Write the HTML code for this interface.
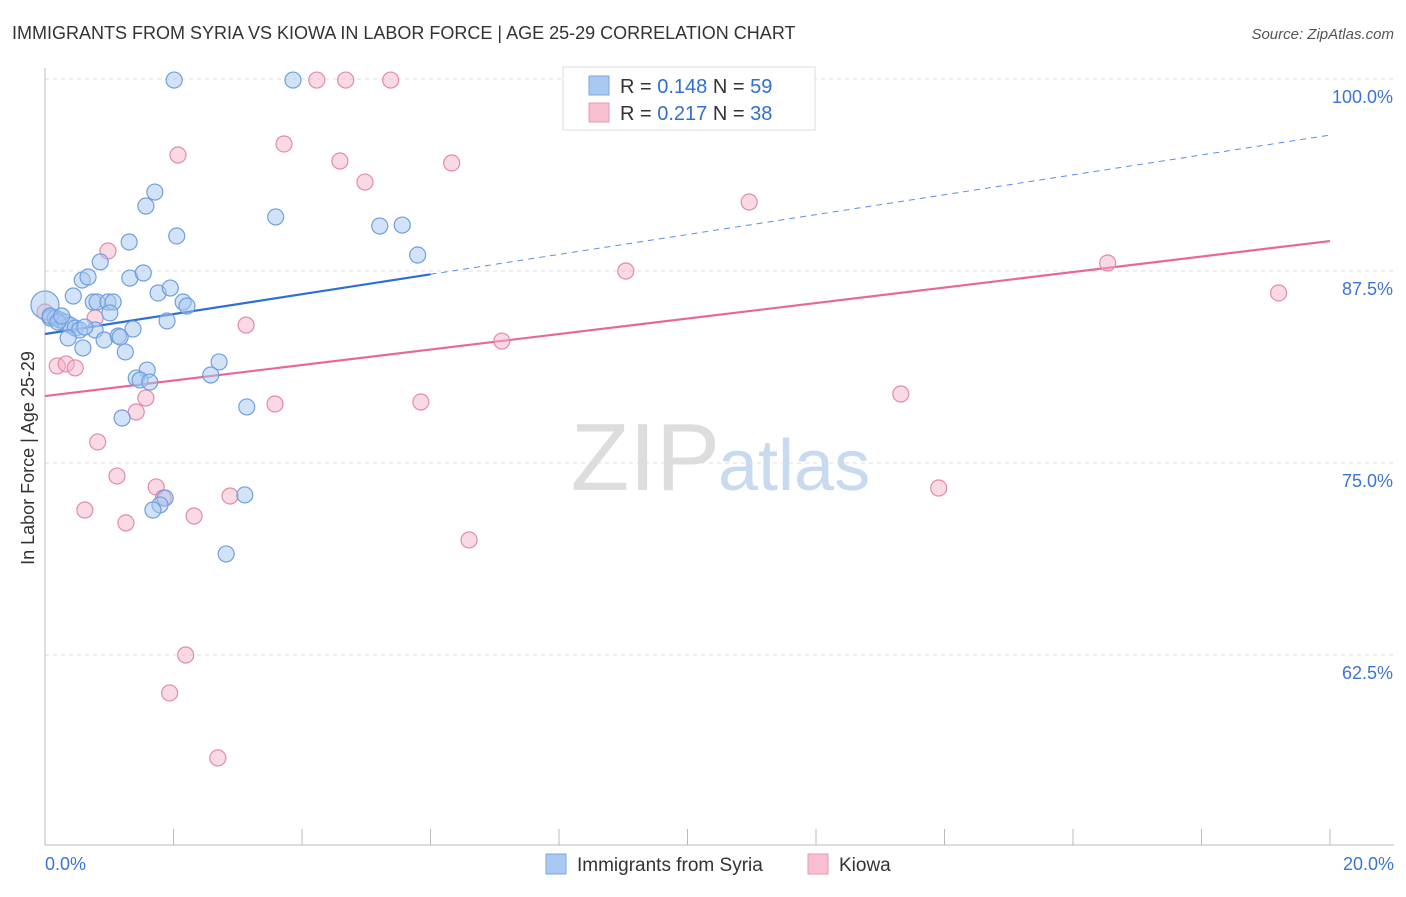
<!DOCTYPE html>
<html><head><meta charset="utf-8"><style>
body{margin:0;background:#fff;font-family:"Liberation Sans",sans-serif}
svg text{font-family:"Liberation Sans",sans-serif}
</style></head><body>
<svg id="chart" width="1406" height="892" xmlns="http://www.w3.org/2000/svg">
<text x="12" y="39" font-size="18" fill="#333">IMMIGRANTS FROM SYRIA VS KIOWA IN LABOR FORCE | AGE 25-29 CORRELATION CHART</text>
<text x="1394" y="39" font-size="15" fill="#555" font-style="italic" text-anchor="end">Source: ZipAtlas.com</text>
<text x="34" y="458" font-size="18" fill="#333" text-anchor="middle" transform="rotate(-90 34 458)">In Labor Force | Age 25-29</text>
<text x="720" y="490" font-size="96" fill="#ddd" text-anchor="end" font-family="Liberation Serif">ZIP</text>
<text x="718" y="490" font-size="72" fill="#c8daf0">atlas</text>
<g id="grid"></g><g id="axes"></g><g id="trend"></g><g id="pts"></g>
<g>
<rect x="563" y="67" width="252" height="63" fill="#fff" stroke="#ddd"/>
<rect x="589" y="76" width="20" height="19" fill="#a9c9f2" stroke="#7aa6e0"/>
<text x="620" y="93" font-size="20" fill="#333">R = <tspan fill="#2f6fd0">0.148</tspan>   N = <tspan fill="#2f6fd0">59</tspan></text>
<rect x="589" y="103" width="20" height="19" fill="#f7bfd0" stroke="#e89ab2"/>
<text x="620" y="120" font-size="20" fill="#333">R = <tspan fill="#2f6fd0">0.217</tspan>   N = <tspan fill="#2f6fd0">38</tspan></text>
</g>
<g>
<rect x="546" y="854" width="20" height="20" fill="#a9c9f2" stroke="#7aa6e0"/>
<text x="577" y="871" font-size="19" fill="#333">Immigrants from Syria</text>
<rect x="808" y="854" width="20" height="20" fill="#f7bfd0" stroke="#e89ab2"/>
<text x="839" y="871" font-size="19" fill="#333">Kiowa</text>
</g>
<text x="45" y="870" font-size="18" fill="#3b74d4">0.0%</text>
<text x="1394" y="870" font-size="18" fill="#3b74d4" text-anchor="end">20.0%</text>
</svg>
<script>
const yTicks=[100,87.5,75,62.5];
const yTickLabels=["100.0%","87.5%","75.0%","62.5%"];
const xTicks=[0,2,4,6,8,10,12,14,16,18,20];
const syriaX=[0,0.08,0.16,0.23,0.31,0.39,0.47,0.54,0.36,0.59,0.44,0.58,0.67,0.75,0.81,0.86,0.78,0.92,0.98,1.06,1.01,1.14,1.17,1.25,1.37,1.32,1.31,1.53,1.57,1.71,1.76,1.95,1.90,2.15,2.21,2.05,2.01,3.86,3.59,5.21,5.56,5.80,2.71,2.58,1.59,1.42,1.48,1.63,3.14,1.20,1.87,1.79,1.68,3.11,2.82,0.08,0.20,0.26,0.62];
const syriaY=[85.29,84.44,84.44,84.31,84.18,83.98,83.79,83.66,83.14,82.49,85.87,86.91,87.11,85.48,85.48,88.09,83.66,83.01,85.48,85.48,84.77,83.27,83.20,82.23,83.72,87.04,89.39,87.37,91.73,92.64,86.07,86.39,84.25,85.48,85.22,89.78,99.93,99.93,91.02,90.43,90.49,88.54,81.58,80.73,81.05,80.53,80.40,80.27,78.65,77.93,72.72,72.27,71.94,72.92,69.08,84.57,84.18,84.57,83.85];
const kiowaX=[0,0.16,0.19,0.33,0.47,0.78,0.98,0.82,1.12,0.62,1.26,1.42,1.57,1.73,1.84,2.07,2.32,2.19,1.94,2.69,2.88,3.13,3.58,3.72,4.23,4.68,5.38,4.59,4.98,5.85,6.33,6.60,7.11,9.04,10.96,13.32,13.91,16.54,19.20];
const kiowaY=[84.83,84.44,81.32,81.45,81.19,84.44,88.80,76.37,74.15,71.94,71.10,78.32,79.23,73.44,72.72,95.05,71.55,62.50,60.03,55.80,72.85,83.98,78.84,95.77,99.93,99.93,99.93,94.66,93.29,78.97,94.53,69.99,82.94,87.50,91.99,79.49,73.37,88.02,86.07];
const syriaTrend=[83.40,0.6475];
const kiowaTrend=[79.36,0.5045];
const X=v=>45+v/20*1285, Y=v=>79+(100-v)/12.5*192;
const NS="http://www.w3.org/2000/svg";
function mk(t,a,p){const e=document.createElementNS(NS,t);for(const k in a)e.setAttribute(k,a[k]);p.appendChild(e);return e;}
const grid=document.getElementById('grid'),axes=document.getElementById('axes');
yTicks.forEach((t,i)=>{
 const l=mk('line',{x1:45,x2:1394,y1:Y(t),y2:Y(t),stroke:'#ddd','stroke-dasharray':'4 4'},grid);
 
 
 const tx=mk('text',{x:1393,y:Y(t)+24,'font-size':18,fill:'#3b74d4','text-anchor':'end'},grid);
 tx.textContent=yTickLabels[i];
 
 
});
const ax=mk('line',{x1:45,x2:45,y1:68,y2:845,stroke:'#bbb'},axes);


const bx=mk('line',{x1:45,x2:1394,y1:845,y2:845,stroke:'#bbb'},axes);


xTicks.forEach(t=>{
 const l=mk('line',{x1:X(t),x2:X(t),y1:829,y2:845,stroke:'#bbb'},axes);
 
 
});
const pts=document.getElementById('pts');
function dots(xs,ys,fill,stroke,name){
 xs.forEach((x,i)=>{
  const c=mk('circle',{cx:X(x),cy:Y(ys[i]),r:(i===0&&name==='syria-point')?14:8,fill:fill,'fill-opacity':0.5,stroke:stroke,'stroke-width':1.2},pts);
  
  
 });
}
dots(kiowaX,kiowaY,'#f4b3c7','#e48aa8','kiowa-point');
dots(syriaX,syriaY,'#a7c8f0','#6e9fe0','syria-point');
const tr=document.getElementById('trend');
const b1=mk('line',{x1:X(0),y1:Y(syriaTrend[0]),x2:X(6),y2:Y(syriaTrend[0]+6*syriaTrend[1]),stroke:'#2d6fd6','stroke-width':2.2},tr);


const b2=mk('line',{x1:X(6),y1:Y(syriaTrend[0]+6*syriaTrend[1]),x2:X(20),y2:Y(syriaTrend[0]+20*syriaTrend[1]),stroke:'#5b8fe0','stroke-width':1,'stroke-dasharray':'6 5'},tr);


const k1=mk('line',{x1:X(0),y1:Y(kiowaTrend[0]),x2:X(20),y2:Y(kiowaTrend[0]+20*kiowaTrend[1]),stroke:'#e8679a','stroke-width':2.2},tr);


</script>
</body></html>
